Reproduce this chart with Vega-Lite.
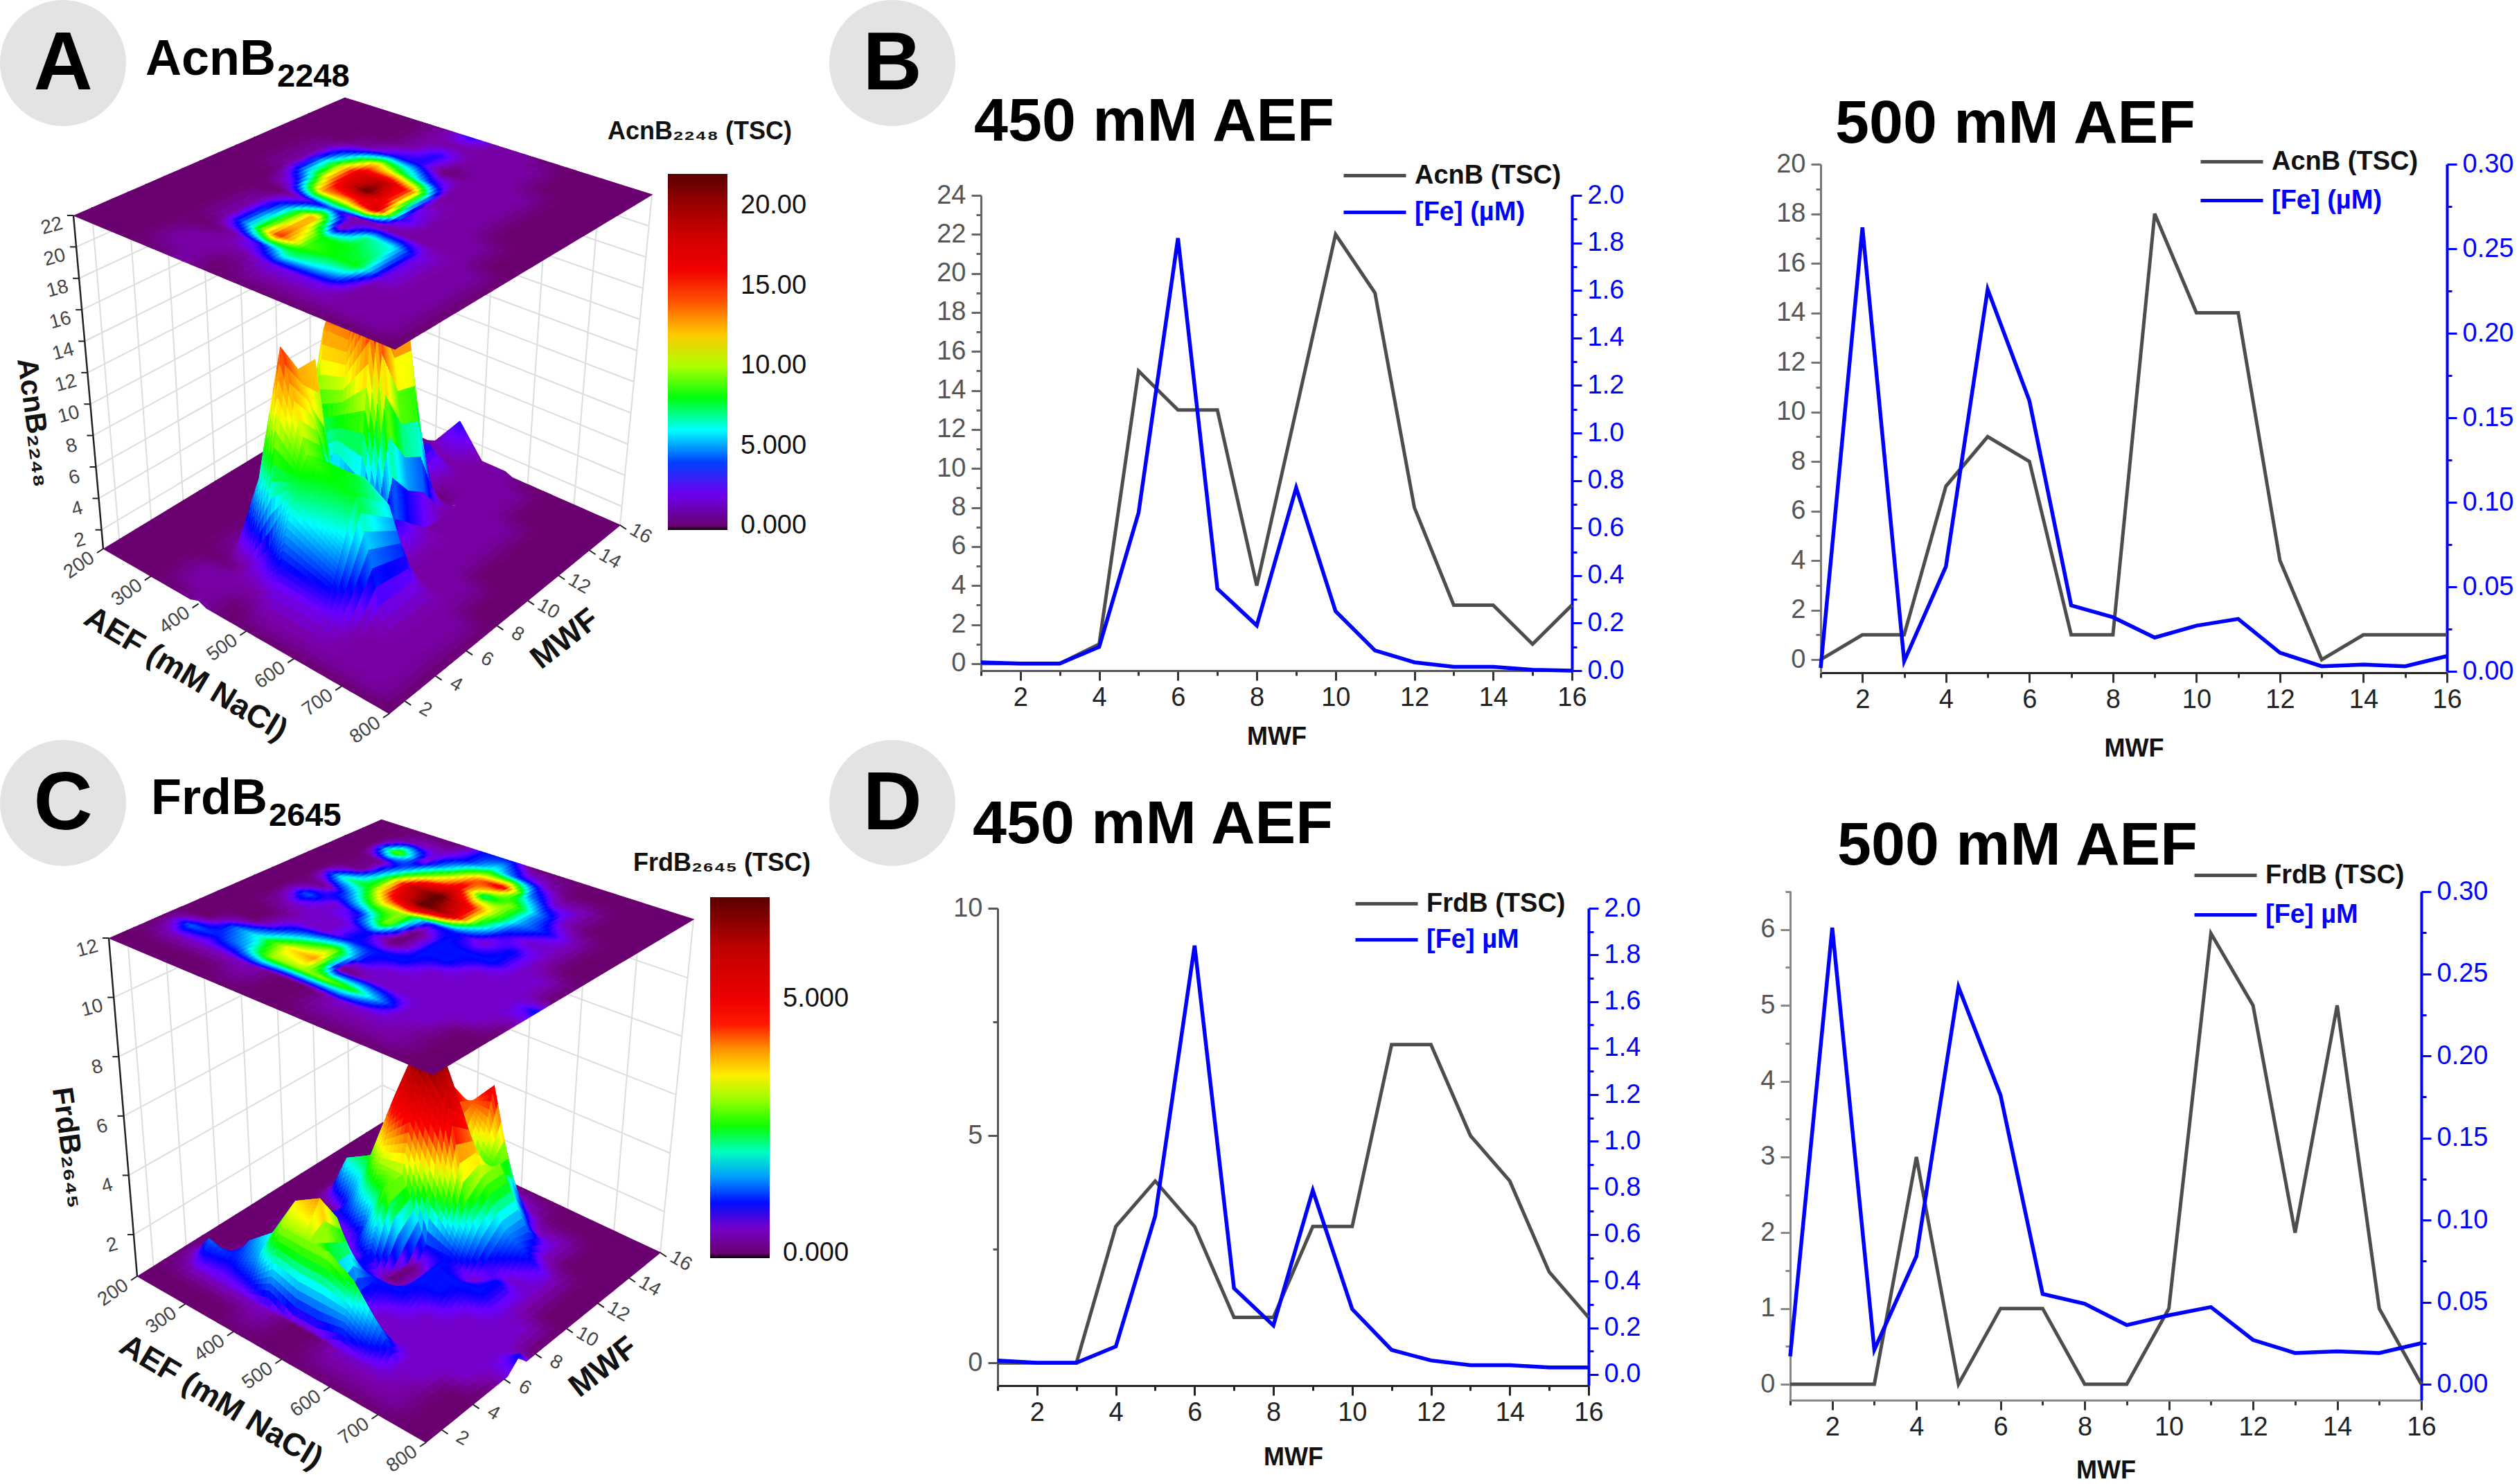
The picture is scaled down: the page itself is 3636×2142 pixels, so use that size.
{"$schema":"https://vega.github.io/schema/vega-lite/v6.json","width":3636,"height":2142,"padding":0,"autosize":{"type":"none"},"background":"white",
"config":{"view":{"stroke":null},"font":"Liberation Sans","axis":{"labelFont":"Liberation Sans","labelFontSize":38,"titleFont":"Liberation Sans","titleFontSize":36,"titleFontWeight":"bold","titleColor":"#111","grid":false,"labelOverlap":false,"labelBound":false,"labelFlush":false,"domainWidth":3,"tickWidth":3},"legend":{"padding":0,"labelFont":"Liberation Sans","titleFont":"Liberation Sans","labelFontSize":38,"labelFontWeight":"bold","symbolType":"stroke","symbolSize":8100,"symbolStrokeWidth":5,"labelOffset":10,"labelLimit":500,"titleLimit":600}},
"datasets":{
"surfA":[
{"aef":200,"mwf":16,"tsc":0},{"aef":250,"mwf":16,"tsc":0},{"aef":300,"mwf":16,"tsc":0},{"aef":350,"mwf":16,"tsc":0},{"aef":400,"mwf":16,"tsc":1},{"aef":450,"mwf":16,"tsc":3},{"aef":500,"mwf":16,"tsc":1},{"aef":550,"mwf":16,"tsc":1},{"aef":600,"mwf":16,"tsc":0},{"aef":650,"mwf":16,"tsc":0},{"aef":700,"mwf":16,"tsc":0},{"aef":750,"mwf":16,"tsc":0},{"aef":800,"mwf":16,"tsc":0},
{"aef":200,"mwf":15,"tsc":0},{"aef":250,"mwf":15,"tsc":0},{"aef":300,"mwf":15,"tsc":0},{"aef":350,"mwf":15,"tsc":0},{"aef":400,"mwf":15,"tsc":1},{"aef":450,"mwf":15,"tsc":1},{"aef":500,"mwf":15,"tsc":1},{"aef":550,"mwf":15,"tsc":1},{"aef":600,"mwf":15,"tsc":1},{"aef":650,"mwf":15,"tsc":0},{"aef":700,"mwf":15,"tsc":0},{"aef":750,"mwf":15,"tsc":0},{"aef":800,"mwf":15,"tsc":0},
{"aef":200,"mwf":14,"tsc":0},{"aef":250,"mwf":14,"tsc":0},{"aef":300,"mwf":14,"tsc":0},{"aef":350,"mwf":14,"tsc":0},{"aef":400,"mwf":14,"tsc":1},{"aef":450,"mwf":14,"tsc":3},{"aef":500,"mwf":14,"tsc":1},{"aef":550,"mwf":14,"tsc":1},{"aef":600,"mwf":14,"tsc":1},{"aef":650,"mwf":14,"tsc":0},{"aef":700,"mwf":14,"tsc":0},{"aef":750,"mwf":14,"tsc":0},{"aef":800,"mwf":14,"tsc":0},
{"aef":200,"mwf":13,"tsc":0},{"aef":250,"mwf":13,"tsc":0},{"aef":300,"mwf":13,"tsc":0},{"aef":350,"mwf":13,"tsc":1},{"aef":400,"mwf":13,"tsc":3},{"aef":450,"mwf":13,"tsc":3},{"aef":500,"mwf":13,"tsc":0},{"aef":550,"mwf":13,"tsc":1},{"aef":600,"mwf":13,"tsc":1},{"aef":650,"mwf":13,"tsc":1},{"aef":700,"mwf":13,"tsc":0},{"aef":750,"mwf":13,"tsc":0},{"aef":800,"mwf":13,"tsc":0},
{"aef":200,"mwf":12,"tsc":0},{"aef":250,"mwf":12,"tsc":0},{"aef":300,"mwf":12,"tsc":1},{"aef":350,"mwf":12,"tsc":5},{"aef":400,"mwf":12,"tsc":12},{"aef":450,"mwf":12,"tsc":8},{"aef":500,"mwf":12,"tsc":4},{"aef":550,"mwf":12,"tsc":1},{"aef":600,"mwf":12,"tsc":1},{"aef":650,"mwf":12,"tsc":1},{"aef":700,"mwf":12,"tsc":0},{"aef":750,"mwf":12,"tsc":0},{"aef":800,"mwf":12,"tsc":0},
{"aef":200,"mwf":11,"tsc":0},{"aef":250,"mwf":11,"tsc":0},{"aef":300,"mwf":11,"tsc":1},{"aef":350,"mwf":11,"tsc":8},{"aef":400,"mwf":11,"tsc":17},{"aef":450,"mwf":11,"tsc":19},{"aef":500,"mwf":11,"tsc":14},{"aef":550,"mwf":11,"tsc":1},{"aef":600,"mwf":11,"tsc":1},{"aef":650,"mwf":11,"tsc":1},{"aef":700,"mwf":11,"tsc":0},{"aef":750,"mwf":11,"tsc":0},{"aef":800,"mwf":11,"tsc":0},
{"aef":200,"mwf":10,"tsc":0},{"aef":250,"mwf":10,"tsc":0},{"aef":300,"mwf":10,"tsc":1},{"aef":350,"mwf":10,"tsc":7},{"aef":400,"mwf":10,"tsc":16},{"aef":450,"mwf":10,"tsc":22},{"aef":500,"mwf":10,"tsc":14},{"aef":550,"mwf":10,"tsc":2},{"aef":600,"mwf":10,"tsc":1},{"aef":650,"mwf":10,"tsc":1},{"aef":700,"mwf":10,"tsc":0},{"aef":750,"mwf":10,"tsc":0},{"aef":800,"mwf":10,"tsc":0},
{"aef":200,"mwf":9,"tsc":0},{"aef":250,"mwf":9,"tsc":0},{"aef":300,"mwf":9,"tsc":0},{"aef":350,"mwf":9,"tsc":3},{"aef":400,"mwf":9,"tsc":13},{"aef":450,"mwf":9,"tsc":13},{"aef":500,"mwf":9,"tsc":18},{"aef":550,"mwf":9,"tsc":3},{"aef":600,"mwf":9,"tsc":1},{"aef":650,"mwf":9,"tsc":1},{"aef":700,"mwf":9,"tsc":1},{"aef":750,"mwf":9,"tsc":0},{"aef":800,"mwf":9,"tsc":0},
{"aef":200,"mwf":8,"tsc":0},{"aef":250,"mwf":8,"tsc":0},{"aef":300,"mwf":8,"tsc":0},{"aef":350,"mwf":8,"tsc":0},{"aef":400,"mwf":8,"tsc":2},{"aef":450,"mwf":8,"tsc":4},{"aef":500,"mwf":8,"tsc":1},{"aef":550,"mwf":8,"tsc":1},{"aef":600,"mwf":8,"tsc":1},{"aef":650,"mwf":8,"tsc":1},{"aef":700,"mwf":8,"tsc":1},{"aef":750,"mwf":8,"tsc":0},{"aef":800,"mwf":8,"tsc":0},
{"aef":200,"mwf":7,"tsc":0},{"aef":250,"mwf":7,"tsc":0},{"aef":300,"mwf":7,"tsc":0},{"aef":350,"mwf":7,"tsc":1},{"aef":400,"mwf":7,"tsc":5},{"aef":450,"mwf":7,"tsc":13},{"aef":500,"mwf":7,"tsc":1},{"aef":550,"mwf":7,"tsc":7},{"aef":600,"mwf":7,"tsc":6},{"aef":650,"mwf":7,"tsc":2},{"aef":700,"mwf":7,"tsc":1},{"aef":750,"mwf":7,"tsc":1},{"aef":800,"mwf":7,"tsc":0},
{"aef":200,"mwf":6,"tsc":0},{"aef":250,"mwf":6,"tsc":0},{"aef":300,"mwf":6,"tsc":0},{"aef":350,"mwf":6,"tsc":1},{"aef":400,"mwf":6,"tsc":6},{"aef":450,"mwf":6,"tsc":13},{"aef":500,"mwf":6,"tsc":8},{"aef":550,"mwf":6,"tsc":8},{"aef":600,"mwf":6,"tsc":7},{"aef":650,"mwf":6,"tsc":2},{"aef":700,"mwf":6,"tsc":1},{"aef":750,"mwf":6,"tsc":1},{"aef":800,"mwf":6,"tsc":0},
{"aef":200,"mwf":5,"tsc":0},{"aef":250,"mwf":5,"tsc":0},{"aef":300,"mwf":5,"tsc":0},{"aef":350,"mwf":5,"tsc":1},{"aef":400,"mwf":5,"tsc":6},{"aef":450,"mwf":5,"tsc":15},{"aef":500,"mwf":5,"tsc":9},{"aef":550,"mwf":5,"tsc":8},{"aef":600,"mwf":5,"tsc":8},{"aef":650,"mwf":5,"tsc":2},{"aef":700,"mwf":5,"tsc":1},{"aef":750,"mwf":5,"tsc":1},{"aef":800,"mwf":5,"tsc":0},
{"aef":200,"mwf":4,"tsc":0},{"aef":250,"mwf":4,"tsc":0},{"aef":300,"mwf":4,"tsc":0},{"aef":350,"mwf":4,"tsc":0},{"aef":400,"mwf":4,"tsc":1},{"aef":450,"mwf":4,"tsc":3},{"aef":500,"mwf":4,"tsc":7},{"aef":550,"mwf":4,"tsc":6},{"aef":600,"mwf":4,"tsc":5},{"aef":650,"mwf":4,"tsc":1},{"aef":700,"mwf":4,"tsc":1},{"aef":750,"mwf":4,"tsc":1},{"aef":800,"mwf":4,"tsc":0},
{"aef":200,"mwf":3,"tsc":0},{"aef":250,"mwf":3,"tsc":0},{"aef":300,"mwf":3,"tsc":0},{"aef":350,"mwf":3,"tsc":1},{"aef":400,"mwf":3,"tsc":1},{"aef":450,"mwf":3,"tsc":1},{"aef":500,"mwf":3,"tsc":2},{"aef":550,"mwf":3,"tsc":2},{"aef":600,"mwf":3,"tsc":2},{"aef":650,"mwf":3,"tsc":1},{"aef":700,"mwf":3,"tsc":1},{"aef":750,"mwf":3,"tsc":1},{"aef":800,"mwf":3,"tsc":0},
{"aef":200,"mwf":2,"tsc":0},{"aef":250,"mwf":2,"tsc":0},{"aef":300,"mwf":2,"tsc":0},{"aef":350,"mwf":2,"tsc":1},{"aef":400,"mwf":2,"tsc":1},{"aef":450,"mwf":2,"tsc":0},{"aef":500,"mwf":2,"tsc":1},{"aef":550,"mwf":2,"tsc":1},{"aef":600,"mwf":2,"tsc":1},{"aef":650,"mwf":2,"tsc":1},{"aef":700,"mwf":2,"tsc":1},{"aef":750,"mwf":2,"tsc":1},{"aef":800,"mwf":2,"tsc":0},
{"aef":200,"mwf":1,"tsc":0},{"aef":250,"mwf":1,"tsc":0},{"aef":300,"mwf":1,"tsc":0},{"aef":350,"mwf":1,"tsc":0},{"aef":400,"mwf":1,"tsc":1},{"aef":450,"mwf":1,"tsc":0},{"aef":500,"mwf":1,"tsc":0},{"aef":550,"mwf":1,"tsc":0},{"aef":600,"mwf":1,"tsc":0},{"aef":650,"mwf":1,"tsc":0},{"aef":700,"mwf":1,"tsc":0},{"aef":750,"mwf":1,"tsc":0},{"aef":800,"mwf":1,"tsc":0}
],
"surfC":[
{"aef":200,"mwf":16,"tsc":0},{"aef":250,"mwf":16,"tsc":0},{"aef":300,"mwf":16,"tsc":0},{"aef":350,"mwf":16,"tsc":0},{"aef":400,"mwf":16,"tsc":1},{"aef":450,"mwf":16,"tsc":1},{"aef":500,"mwf":16,"tsc":0},{"aef":550,"mwf":16,"tsc":0},{"aef":600,"mwf":16,"tsc":0},{"aef":650,"mwf":16,"tsc":0},{"aef":700,"mwf":16,"tsc":0},{"aef":750,"mwf":16,"tsc":0},{"aef":800,"mwf":16,"tsc":0},
{"aef":200,"mwf":15,"tsc":0},{"aef":250,"mwf":15,"tsc":0},{"aef":300,"mwf":15,"tsc":0.5},{"aef":350,"mwf":15,"tsc":0.5},{"aef":400,"mwf":15,"tsc":1},{"aef":450,"mwf":15,"tsc":2},{"aef":500,"mwf":15,"tsc":1},{"aef":550,"mwf":15,"tsc":0.5},{"aef":600,"mwf":15,"tsc":0},{"aef":650,"mwf":15,"tsc":0},{"aef":700,"mwf":15,"tsc":0},{"aef":750,"mwf":15,"tsc":0},{"aef":800,"mwf":15,"tsc":0},
{"aef":200,"mwf":14,"tsc":0},{"aef":250,"mwf":14,"tsc":0},{"aef":300,"mwf":14,"tsc":3},{"aef":350,"mwf":14,"tsc":0.5},{"aef":400,"mwf":14,"tsc":2},{"aef":450,"mwf":14,"tsc":4},{"aef":500,"mwf":14,"tsc":5},{"aef":550,"mwf":14,"tsc":1.5},{"aef":600,"mwf":14,"tsc":0.5},{"aef":650,"mwf":14,"tsc":0.5},{"aef":700,"mwf":14,"tsc":0},{"aef":750,"mwf":14,"tsc":0},{"aef":800,"mwf":14,"tsc":0},
{"aef":200,"mwf":13,"tsc":0},{"aef":250,"mwf":13,"tsc":0},{"aef":300,"mwf":13,"tsc":0.2},{"aef":350,"mwf":13,"tsc":1.5},{"aef":400,"mwf":13,"tsc":3.5},{"aef":450,"mwf":13,"tsc":5},{"aef":500,"mwf":13,"tsc":2},{"aef":550,"mwf":13,"tsc":3},{"aef":600,"mwf":13,"tsc":1.5},{"aef":650,"mwf":13,"tsc":0.5},{"aef":700,"mwf":13,"tsc":0},{"aef":750,"mwf":13,"tsc":0},{"aef":800,"mwf":13,"tsc":0},
{"aef":200,"mwf":12,"tsc":0},{"aef":250,"mwf":12,"tsc":0},{"aef":300,"mwf":12,"tsc":0.2},{"aef":350,"mwf":12,"tsc":2.5},{"aef":400,"mwf":12,"tsc":6},{"aef":450,"mwf":12,"tsc":7},{"aef":500,"mwf":12,"tsc":5},{"aef":550,"mwf":12,"tsc":3},{"aef":600,"mwf":12,"tsc":1.5},{"aef":650,"mwf":12,"tsc":1},{"aef":700,"mwf":12,"tsc":0.5},{"aef":750,"mwf":12,"tsc":0},{"aef":800,"mwf":12,"tsc":0},
{"aef":200,"mwf":11,"tsc":0},{"aef":250,"mwf":11,"tsc":0},{"aef":300,"mwf":11,"tsc":2},{"aef":350,"mwf":11,"tsc":2.5},{"aef":400,"mwf":11,"tsc":5},{"aef":450,"mwf":11,"tsc":7},{"aef":500,"mwf":11,"tsc":6},{"aef":550,"mwf":11,"tsc":2.5},{"aef":600,"mwf":11,"tsc":1},{"aef":650,"mwf":11,"tsc":0.5},{"aef":700,"mwf":11,"tsc":0.5},{"aef":750,"mwf":11,"tsc":0},{"aef":800,"mwf":11,"tsc":0},
{"aef":200,"mwf":10,"tsc":0},{"aef":250,"mwf":10,"tsc":0},{"aef":300,"mwf":10,"tsc":0.2},{"aef":350,"mwf":10,"tsc":1.5},{"aef":400,"mwf":10,"tsc":3},{"aef":450,"mwf":10,"tsc":3},{"aef":500,"mwf":10,"tsc":1},{"aef":550,"mwf":10,"tsc":1},{"aef":600,"mwf":10,"tsc":0.5},{"aef":650,"mwf":10,"tsc":1},{"aef":700,"mwf":10,"tsc":0.5},{"aef":750,"mwf":10,"tsc":0},{"aef":800,"mwf":10,"tsc":0},
{"aef":200,"mwf":9,"tsc":0},{"aef":250,"mwf":9,"tsc":0},{"aef":300,"mwf":9,"tsc":1.3},{"aef":350,"mwf":9,"tsc":0.5},{"aef":400,"mwf":9,"tsc":1},{"aef":450,"mwf":9,"tsc":3},{"aef":500,"mwf":9,"tsc":0},{"aef":550,"mwf":9,"tsc":1},{"aef":600,"mwf":9,"tsc":1},{"aef":650,"mwf":9,"tsc":1},{"aef":700,"mwf":9,"tsc":0.5},{"aef":750,"mwf":9,"tsc":0.5},{"aef":800,"mwf":9,"tsc":0},
{"aef":200,"mwf":8,"tsc":0},{"aef":250,"mwf":8,"tsc":0},{"aef":300,"mwf":8,"tsc":0.5},{"aef":350,"mwf":8,"tsc":0.5},{"aef":400,"mwf":8,"tsc":0.5},{"aef":450,"mwf":8,"tsc":1},{"aef":500,"mwf":8,"tsc":0},{"aef":550,"mwf":8,"tsc":1},{"aef":600,"mwf":8,"tsc":1},{"aef":650,"mwf":8,"tsc":0.5},{"aef":700,"mwf":8,"tsc":0.5},{"aef":750,"mwf":8,"tsc":0.5},{"aef":800,"mwf":8,"tsc":0},
{"aef":200,"mwf":7,"tsc":0},{"aef":250,"mwf":7,"tsc":0},{"aef":300,"mwf":7,"tsc":0},{"aef":350,"mwf":7,"tsc":0.5},{"aef":400,"mwf":7,"tsc":0.5},{"aef":450,"mwf":7,"tsc":1},{"aef":500,"mwf":7,"tsc":1},{"aef":550,"mwf":7,"tsc":1},{"aef":600,"mwf":7,"tsc":0.5},{"aef":650,"mwf":7,"tsc":0.5},{"aef":700,"mwf":7,"tsc":0.5},{"aef":750,"mwf":7,"tsc":0.5},{"aef":800,"mwf":7,"tsc":1},
{"aef":200,"mwf":6,"tsc":0},{"aef":250,"mwf":6,"tsc":0},{"aef":300,"mwf":6,"tsc":0},{"aef":350,"mwf":6,"tsc":1},{"aef":400,"mwf":6,"tsc":2},{"aef":450,"mwf":6,"tsc":3},{"aef":500,"mwf":6,"tsc":1},{"aef":550,"mwf":6,"tsc":0.5},{"aef":600,"mwf":6,"tsc":0.5},{"aef":650,"mwf":6,"tsc":0.5},{"aef":700,"mwf":6,"tsc":0.5},{"aef":750,"mwf":6,"tsc":0.5},{"aef":800,"mwf":6,"tsc":0.5},
{"aef":200,"mwf":5,"tsc":0},{"aef":250,"mwf":5,"tsc":0},{"aef":300,"mwf":5,"tsc":1.3},{"aef":350,"mwf":5,"tsc":2},{"aef":400,"mwf":5,"tsc":3.5},{"aef":450,"mwf":5,"tsc":4},{"aef":500,"mwf":5,"tsc":0},{"aef":550,"mwf":5,"tsc":0.5},{"aef":600,"mwf":5,"tsc":0.5},{"aef":650,"mwf":5,"tsc":0.5},{"aef":700,"mwf":5,"tsc":0.5},{"aef":750,"mwf":5,"tsc":0.5},{"aef":800,"mwf":5,"tsc":0},
{"aef":200,"mwf":4,"tsc":0},{"aef":250,"mwf":4,"tsc":1.3},{"aef":300,"mwf":4,"tsc":1},{"aef":350,"mwf":4,"tsc":1.5},{"aef":400,"mwf":4,"tsc":3},{"aef":450,"mwf":4,"tsc":3},{"aef":500,"mwf":4,"tsc":3},{"aef":550,"mwf":4,"tsc":2.5},{"aef":600,"mwf":4,"tsc":1.5},{"aef":650,"mwf":4,"tsc":0.5},{"aef":700,"mwf":4,"tsc":0.5},{"aef":750,"mwf":4,"tsc":0},{"aef":800,"mwf":4,"tsc":0},
{"aef":200,"mwf":3,"tsc":0},{"aef":250,"mwf":3,"tsc":0.5},{"aef":300,"mwf":3,"tsc":0.5},{"aef":350,"mwf":3,"tsc":0.5},{"aef":400,"mwf":3,"tsc":0.5},{"aef":450,"mwf":3,"tsc":0},{"aef":500,"mwf":3,"tsc":0},{"aef":550,"mwf":3,"tsc":0.5},{"aef":600,"mwf":3,"tsc":0.5},{"aef":650,"mwf":3,"tsc":0.5},{"aef":700,"mwf":3,"tsc":0.3},{"aef":750,"mwf":3,"tsc":0},{"aef":800,"mwf":3,"tsc":0},
{"aef":200,"mwf":2,"tsc":0},{"aef":250,"mwf":2,"tsc":0},{"aef":300,"mwf":2,"tsc":0},{"aef":350,"mwf":2,"tsc":0},{"aef":400,"mwf":2,"tsc":0.3},{"aef":450,"mwf":2,"tsc":0},{"aef":500,"mwf":2,"tsc":0},{"aef":550,"mwf":2,"tsc":0.3},{"aef":600,"mwf":2,"tsc":0.3},{"aef":650,"mwf":2,"tsc":0.3},{"aef":700,"mwf":2,"tsc":0.3},{"aef":750,"mwf":2,"tsc":0},{"aef":800,"mwf":2,"tsc":0},
{"aef":200,"mwf":1,"tsc":0},{"aef":250,"mwf":1,"tsc":0},{"aef":300,"mwf":1,"tsc":0},{"aef":350,"mwf":1,"tsc":0},{"aef":400,"mwf":1,"tsc":0},{"aef":450,"mwf":1,"tsc":0},{"aef":500,"mwf":1,"tsc":0},{"aef":550,"mwf":1,"tsc":0},{"aef":600,"mwf":1,"tsc":0},{"aef":650,"mwf":1,"tsc":0},{"aef":700,"mwf":1,"tsc":0},{"aef":750,"mwf":1,"tsc":0},{"aef":800,"mwf":1,"tsc":0}
],
"wallA":[
{"line":"z2","seq":0,"aef":200,"mwf":1,"z":2},{"line":"z2","seq":1,"aef":200,"mwf":16,"z":2},{"line":"z2","seq":2,"aef":800,"mwf":16,"z":2},
{"line":"z4","seq":0,"aef":200,"mwf":1,"z":4},{"line":"z4","seq":1,"aef":200,"mwf":16,"z":4},{"line":"z4","seq":2,"aef":800,"mwf":16,"z":4},
{"line":"z6","seq":0,"aef":200,"mwf":1,"z":6},{"line":"z6","seq":1,"aef":200,"mwf":16,"z":6},{"line":"z6","seq":2,"aef":800,"mwf":16,"z":6},
{"line":"z8","seq":0,"aef":200,"mwf":1,"z":8},{"line":"z8","seq":1,"aef":200,"mwf":16,"z":8},{"line":"z8","seq":2,"aef":800,"mwf":16,"z":8},
{"line":"z10","seq":0,"aef":200,"mwf":1,"z":10},{"line":"z10","seq":1,"aef":200,"mwf":16,"z":10},{"line":"z10","seq":2,"aef":800,"mwf":16,"z":10},
{"line":"z12","seq":0,"aef":200,"mwf":1,"z":12},{"line":"z12","seq":1,"aef":200,"mwf":16,"z":12},{"line":"z12","seq":2,"aef":800,"mwf":16,"z":12},
{"line":"z14","seq":0,"aef":200,"mwf":1,"z":14},{"line":"z14","seq":1,"aef":200,"mwf":16,"z":14},{"line":"z14","seq":2,"aef":800,"mwf":16,"z":14},
{"line":"z16","seq":0,"aef":200,"mwf":1,"z":16},{"line":"z16","seq":1,"aef":200,"mwf":16,"z":16},{"line":"z16","seq":2,"aef":800,"mwf":16,"z":16},
{"line":"z18","seq":0,"aef":200,"mwf":1,"z":18},{"line":"z18","seq":1,"aef":200,"mwf":16,"z":18},{"line":"z18","seq":2,"aef":800,"mwf":16,"z":18},
{"line":"z20","seq":0,"aef":200,"mwf":1,"z":20},{"line":"z20","seq":1,"aef":200,"mwf":16,"z":20},{"line":"z20","seq":2,"aef":800,"mwf":16,"z":20},
{"line":"a200","seq":0,"aef":200,"mwf":16,"z":0.8},{"line":"a200","seq":1,"aef":200,"mwf":16,"z":22},
{"line":"a300","seq":0,"aef":300,"mwf":16,"z":0.8},{"line":"a300","seq":1,"aef":300,"mwf":16,"z":22},
{"line":"a400","seq":0,"aef":400,"mwf":16,"z":0.8},{"line":"a400","seq":1,"aef":400,"mwf":16,"z":22},
{"line":"a500","seq":0,"aef":500,"mwf":16,"z":0.8},{"line":"a500","seq":1,"aef":500,"mwf":16,"z":22},
{"line":"a600","seq":0,"aef":600,"mwf":16,"z":0.8},{"line":"a600","seq":1,"aef":600,"mwf":16,"z":22},
{"line":"a700","seq":0,"aef":700,"mwf":16,"z":0.8},{"line":"a700","seq":1,"aef":700,"mwf":16,"z":22},
{"line":"a800","seq":0,"aef":800,"mwf":16,"z":0.8},{"line":"a800","seq":1,"aef":800,"mwf":16,"z":22},
{"line":"m2","seq":0,"aef":200,"mwf":2,"z":0.8},{"line":"m2","seq":1,"aef":200,"mwf":2,"z":22},
{"line":"m4","seq":0,"aef":200,"mwf":4,"z":0.8},{"line":"m4","seq":1,"aef":200,"mwf":4,"z":22},
{"line":"m6","seq":0,"aef":200,"mwf":6,"z":0.8},{"line":"m6","seq":1,"aef":200,"mwf":6,"z":22},
{"line":"m8","seq":0,"aef":200,"mwf":8,"z":0.8},{"line":"m8","seq":1,"aef":200,"mwf":8,"z":22},
{"line":"m10","seq":0,"aef":200,"mwf":10,"z":0.8},{"line":"m10","seq":1,"aef":200,"mwf":10,"z":22},
{"line":"m12","seq":0,"aef":200,"mwf":12,"z":0.8},{"line":"m12","seq":1,"aef":200,"mwf":12,"z":22},
{"line":"m14","seq":0,"aef":200,"mwf":14,"z":0.8},{"line":"m14","seq":1,"aef":200,"mwf":14,"z":22}
],
"wallC":[
{"line":"z2","seq":0,"aef":200,"mwf":1,"z":2},{"line":"z2","seq":1,"aef":200,"mwf":16,"z":2},{"line":"z2","seq":2,"aef":800,"mwf":16,"z":2},
{"line":"z4","seq":0,"aef":200,"mwf":1,"z":4},{"line":"z4","seq":1,"aef":200,"mwf":16,"z":4},{"line":"z4","seq":2,"aef":800,"mwf":16,"z":4},
{"line":"z6","seq":0,"aef":200,"mwf":1,"z":6},{"line":"z6","seq":1,"aef":200,"mwf":16,"z":6},{"line":"z6","seq":2,"aef":800,"mwf":16,"z":6},
{"line":"z8","seq":0,"aef":200,"mwf":1,"z":8},{"line":"z8","seq":1,"aef":200,"mwf":16,"z":8},{"line":"z8","seq":2,"aef":800,"mwf":16,"z":8},
{"line":"z10","seq":0,"aef":200,"mwf":1,"z":10},{"line":"z10","seq":1,"aef":200,"mwf":16,"z":10},{"line":"z10","seq":2,"aef":800,"mwf":16,"z":10},
{"line":"a200","seq":0,"aef":200,"mwf":16,"z":0.6},{"line":"a200","seq":1,"aef":200,"mwf":16,"z":12},
{"line":"a300","seq":0,"aef":300,"mwf":16,"z":0.6},{"line":"a300","seq":1,"aef":300,"mwf":16,"z":12},
{"line":"a400","seq":0,"aef":400,"mwf":16,"z":0.6},{"line":"a400","seq":1,"aef":400,"mwf":16,"z":12},
{"line":"a500","seq":0,"aef":500,"mwf":16,"z":0.6},{"line":"a500","seq":1,"aef":500,"mwf":16,"z":12},
{"line":"a600","seq":0,"aef":600,"mwf":16,"z":0.6},{"line":"a600","seq":1,"aef":600,"mwf":16,"z":12},
{"line":"a700","seq":0,"aef":700,"mwf":16,"z":0.6},{"line":"a700","seq":1,"aef":700,"mwf":16,"z":12},
{"line":"a800","seq":0,"aef":800,"mwf":16,"z":0.6},{"line":"a800","seq":1,"aef":800,"mwf":16,"z":12},
{"line":"m2","seq":0,"aef":200,"mwf":2,"z":0.6},{"line":"m2","seq":1,"aef":200,"mwf":2,"z":12},
{"line":"m4","seq":0,"aef":200,"mwf":4,"z":0.6},{"line":"m4","seq":1,"aef":200,"mwf":4,"z":12},
{"line":"m6","seq":0,"aef":200,"mwf":6,"z":0.6},{"line":"m6","seq":1,"aef":200,"mwf":6,"z":12},
{"line":"m8","seq":0,"aef":200,"mwf":8,"z":0.6},{"line":"m8","seq":1,"aef":200,"mwf":8,"z":12},
{"line":"m10","seq":0,"aef":200,"mwf":10,"z":0.6},{"line":"m10","seq":1,"aef":200,"mwf":10,"z":12},
{"line":"m12","seq":0,"aef":200,"mwf":12,"z":0.6},{"line":"m12","seq":1,"aef":200,"mwf":12,"z":12},
{"line":"m14","seq":0,"aef":200,"mwf":14,"z":0.6},{"line":"m14","seq":1,"aef":200,"mwf":14,"z":12}
],
"axisA":[
{"kind":"base","label":"","aef":200,"mwf":1,"z":0.8},
{"kind":"z","label":"2","aef":200,"mwf":1,"z":2},{"kind":"z","label":"4","aef":200,"mwf":1,"z":4},{"kind":"z","label":"6","aef":200,"mwf":1,"z":6},{"kind":"z","label":"8","aef":200,"mwf":1,"z":8},{"kind":"z","label":"10","aef":200,"mwf":1,"z":10},{"kind":"z","label":"12","aef":200,"mwf":1,"z":12},{"kind":"z","label":"14","aef":200,"mwf":1,"z":14},{"kind":"z","label":"16","aef":200,"mwf":1,"z":16},{"kind":"z","label":"18","aef":200,"mwf":1,"z":18},{"kind":"z","label":"20","aef":200,"mwf":1,"z":20},{"kind":"z","label":"22","aef":200,"mwf":1,"z":22},
{"kind":"aef","label":"200","aef":200,"mwf":1,"z":0.8},{"kind":"aef","label":"300","aef":300,"mwf":1,"z":0.8},{"kind":"aef","label":"400","aef":400,"mwf":1,"z":0.8},{"kind":"aef","label":"500","aef":500,"mwf":1,"z":0.8},{"kind":"aef","label":"600","aef":600,"mwf":1,"z":0.8},{"kind":"aef","label":"700","aef":700,"mwf":1,"z":0.8},{"kind":"aef","label":"800","aef":800,"mwf":1,"z":0.8},
{"kind":"mwf","label":"2","aef":800,"mwf":2,"z":0.8},{"kind":"mwf","label":"4","aef":800,"mwf":4,"z":0.8},{"kind":"mwf","label":"6","aef":800,"mwf":6,"z":0.8},{"kind":"mwf","label":"8","aef":800,"mwf":8,"z":0.8},{"kind":"mwf","label":"10","aef":800,"mwf":10,"z":0.8},{"kind":"mwf","label":"12","aef":800,"mwf":12,"z":0.8},{"kind":"mwf","label":"14","aef":800,"mwf":14,"z":0.8},{"kind":"mwf","label":"16","aef":800,"mwf":16,"z":0.8},
{"kind":"aeft","label":"AEF (mM NaCl)","aef":500,"mwf":1,"z":0.8},{"kind":"mwft","label":"MWF","aef":800,"mwf":8.5,"z":0.8},{"kind":"zt","label":"AcnB₂₂₄₈","aef":200,"mwf":1,"z":11.4},
{"kind":"lt","label":"AcnB₂₂₄₈ (TSC)","aef":800,"mwf":16,"z":22}
],
"axisC":[
{"kind":"base","label":"","aef":200,"mwf":1,"z":0.6},
{"kind":"z","label":"2","aef":200,"mwf":1,"z":2},{"kind":"z","label":"4","aef":200,"mwf":1,"z":4},{"kind":"z","label":"6","aef":200,"mwf":1,"z":6},{"kind":"z","label":"8","aef":200,"mwf":1,"z":8},{"kind":"z","label":"10","aef":200,"mwf":1,"z":10},{"kind":"z","label":"12","aef":200,"mwf":1,"z":12},
{"kind":"aef","label":"200","aef":200,"mwf":1,"z":0.6},{"kind":"aef","label":"300","aef":300,"mwf":1,"z":0.6},{"kind":"aef","label":"400","aef":400,"mwf":1,"z":0.6},{"kind":"aef","label":"500","aef":500,"mwf":1,"z":0.6},{"kind":"aef","label":"600","aef":600,"mwf":1,"z":0.6},{"kind":"aef","label":"700","aef":700,"mwf":1,"z":0.6},{"kind":"aef","label":"800","aef":800,"mwf":1,"z":0.6},
{"kind":"mwf","label":"2","aef":800,"mwf":2,"z":0.6},{"kind":"mwf","label":"4","aef":800,"mwf":4,"z":0.6},{"kind":"mwf","label":"6","aef":800,"mwf":6,"z":0.6},{"kind":"mwf","label":"8","aef":800,"mwf":8,"z":0.6},{"kind":"mwf","label":"10","aef":800,"mwf":10,"z":0.6},{"kind":"mwf","label":"12","aef":800,"mwf":12,"z":0.6},{"kind":"mwf","label":"14","aef":800,"mwf":14,"z":0.6},{"kind":"mwf","label":"16","aef":800,"mwf":16,"z":0.6},
{"kind":"aeft","label":"AEF (mM NaCl)","aef":500,"mwf":1,"z":0.6},{"kind":"mwft","label":"MWF","aef":800,"mwf":8.5,"z":0.6},{"kind":"zt","label":"FrdB₂₆₄₅","aef":200,"mwf":1,"z":6.3},
{"kind":"lt","label":"FrdB₂₆₄₅ (TSC)","aef":800,"mwf":16,"z":12}
],
"lines":[
{"chart":"B450","mwf":1,"tsc":0,"fe":0.035},{"chart":"B450","mwf":2,"tsc":0,"fe":0.03},{"chart":"B450","mwf":3,"tsc":0,"fe":0.03},{"chart":"B450","mwf":4,"tsc":1,"fe":0.1},{"chart":"B450","mwf":5,"tsc":15,"fe":0.665},{"chart":"B450","mwf":6,"tsc":13,"fe":1.82},{"chart":"B450","mwf":7,"tsc":13,"fe":0.345},{"chart":"B450","mwf":8,"tsc":4,"fe":0.19},{"chart":"B450","mwf":9,"tsc":13,"fe":0.77},{"chart":"B450","mwf":10,"tsc":22,"fe":0.25},{"chart":"B450","mwf":11,"tsc":19,"fe":0.085},{"chart":"B450","mwf":12,"tsc":8,"fe":0.035},{"chart":"B450","mwf":13,"tsc":3,"fe":0.016},{"chart":"B450","mwf":14,"tsc":3,"fe":0.016},{"chart":"B450","mwf":15,"tsc":1,"fe":0.004},{"chart":"B450","mwf":16,"tsc":3,"fe":0},
{"chart":"B500","mwf":1,"tsc":0,"fe":0.002},{"chart":"B500","mwf":2,"tsc":1,"fe":0.2626},{"chart":"B500","mwf":3,"tsc":1,"fe":0.006},{"chart":"B500","mwf":4,"tsc":7,"fe":0.062},{"chart":"B500","mwf":5,"tsc":9,"fe":0.226},{"chart":"B500","mwf":6,"tsc":8,"fe":0.16},{"chart":"B500","mwf":7,"tsc":1,"fe":0.039},{"chart":"B500","mwf":8,"tsc":1,"fe":0.032},{"chart":"B500","mwf":9,"tsc":18,"fe":0.02},{"chart":"B500","mwf":10,"tsc":14,"fe":0.027},{"chart":"B500","mwf":11,"tsc":14,"fe":0.031},{"chart":"B500","mwf":12,"tsc":4,"fe":0.011},{"chart":"B500","mwf":13,"tsc":0,"fe":0.003},{"chart":"B500","mwf":14,"tsc":1,"fe":0.004},{"chart":"B500","mwf":15,"tsc":1,"fe":0.003},{"chart":"B500","mwf":16,"tsc":1,"fe":0.009},
{"chart":"D450","mwf":1,"tsc":0,"fe":0.06},{"chart":"D450","mwf":2,"tsc":0,"fe":0.05},{"chart":"D450","mwf":3,"tsc":0,"fe":0.05},{"chart":"D450","mwf":4,"tsc":3,"fe":0.12},{"chart":"D450","mwf":5,"tsc":4,"fe":0.68},{"chart":"D450","mwf":6,"tsc":3,"fe":1.84},{"chart":"D450","mwf":7,"tsc":1,"fe":0.37},{"chart":"D450","mwf":8,"tsc":1,"fe":0.21},{"chart":"D450","mwf":9,"tsc":3,"fe":0.79},{"chart":"D450","mwf":10,"tsc":3,"fe":0.28},{"chart":"D450","mwf":11,"tsc":7,"fe":0.105},{"chart":"D450","mwf":12,"tsc":7,"fe":0.06},{"chart":"D450","mwf":13,"tsc":5,"fe":0.04},{"chart":"D450","mwf":14,"tsc":4,"fe":0.04},{"chart":"D450","mwf":15,"tsc":2,"fe":0.03},{"chart":"D450","mwf":16,"tsc":1,"fe":0.03},
{"chart":"D500","mwf":1,"tsc":0,"fe":0.017},{"chart":"D500","mwf":2,"tsc":0,"fe":0.278},{"chart":"D500","mwf":3,"tsc":0,"fe":0.021},{"chart":"D500","mwf":4,"tsc":3,"fe":0.078},{"chart":"D500","mwf":5,"tsc":0,"fe":0.242},{"chart":"D500","mwf":6,"tsc":1,"fe":0.176},{"chart":"D500","mwf":7,"tsc":1,"fe":0.055},{"chart":"D500","mwf":8,"tsc":0,"fe":0.049},{"chart":"D500","mwf":9,"tsc":0,"fe":0.036},{"chart":"D500","mwf":10,"tsc":1,"fe":0.042},{"chart":"D500","mwf":11,"tsc":5.95,"fe":0.047},{"chart":"D500","mwf":12,"tsc":5,"fe":0.027},{"chart":"D500","mwf":13,"tsc":2,"fe":0.019},{"chart":"D500","mwf":14,"tsc":5,"fe":0.02},{"chart":"D500","mwf":15,"tsc":1,"fe":0.019},{"chart":"D500","mwf":16,"tsc":0,"fe":0.025}
]
},
"layer":[
{"data":{"values":[{"badge":"A","col":"left","row":"top"},{"badge":"B","col":"right","row":"top"},{"badge":"C","col":"left","row":"bottom"},{"badge":"D","col":"right","row":"bottom"}]},
 "encoding":{"x":{"field":"col","type":"nominal","scale":{"type":"point","padding":0,"domain":["left","right"],"range":[91,1288]},"axis":null},"y":{"field":"row","type":"nominal","scale":{"type":"point","padding":0,"domain":["top","bottom"],"range":[91,1159]},"axis":null}},
 "layer":[{"mark":{"type":"point","filled":true,"shape":"circle","size":33124,"color":"#e3e3e3","opacity":1,"strokeWidth":0}},
 {"mark":{"type":"text","font":"Liberation Sans","fontWeight":"bold","fontSize":118,"color":"#000","align":"center","baseline":"middle","dy":3},"encoding":{"text":{"field":"badge"}}}]},
{"data":{"values":[{"name":"AcnB","sub":"2248","col":"left","row":"top"},{"name":"FrdB","sub":"2645","col":"right","row":"bottom"}]},
 "mark":{"type":"text","font":"Liberation Sans","fontWeight":"bold","fontSize":72,"color":"#000","align":"left","baseline":"alphabetic"},
 "encoding":{"text":{"field":"name"},"x":{"field":"col","type":"nominal","scale":{"type":"point","padding":0,"domain":["left","right"],"range":[210,218]},"axis":null},"y":{"field":"row","type":"nominal","scale":{"type":"point","padding":0,"domain":["top","bottom"],"range":[108,1175]},"axis":null}}},
{"data":{"values":[{"name":"AcnB","sub":"2248","col":"left","row":"top"},{"name":"FrdB","sub":"2645","col":"right","row":"bottom"}]},
 "mark":{"type":"text","font":"Liberation Sans","fontWeight":"bold","fontSize":47,"color":"#000","align":"left","baseline":"alphabetic"},
 "encoding":{"text":{"field":"sub"},"x":{"field":"col","type":"nominal","scale":{"type":"point","padding":0,"domain":["left","right"],"range":[400,388]},"axis":null},"y":{"field":"row","type":"nominal","scale":{"type":"point","padding":0,"domain":["top","bottom"],"range":[125,1192]},"axis":null}}},
{"data":{"values":[{"label":"450 mM AEF","chart":"c450"},{"label":"500 mM AEF","chart":"c500"}]},
 "mark":{"type":"text","font":"Liberation Sans","fontWeight":"bold","fontSize":88,"color":"#000","align":"left","baseline":"middle"},
 "encoding":{"text":{"field":"label"},"x":{"field":"chart","type":"nominal","scale":{"type":"point","padding":0,"domain":["c450","c500"],"range":[1406,2649]},"axis":null},"y":{"field":"chart","type":"nominal","scale":{"type":"point","padding":0,"domain":["c450","c500"],"range":[177,180]},"axis":null}}},
{"data":{"values":[{"label":"450 mM AEF","chart":"c450"},{"label":"500 mM AEF","chart":"c500"}]},
 "mark":{"type":"text","font":"Liberation Sans","fontWeight":"bold","fontSize":88,"color":"#000","align":"left","baseline":"middle"},
 "encoding":{"text":{"field":"label"},"x":{"field":"chart","type":"nominal","scale":{"type":"point","padding":0,"domain":["c450","c500"],"range":[1404,2652]},"axis":null},"y":{"field":"chart","type":"nominal","scale":{"type":"point","padding":0,"domain":["c450","c500"],"range":[1191,1222]},"axis":null}}},

{"encoding":{"x":{"field":"px","type":"quantitative","scale":{"domain":[0,3636],"range":[0,3636],"nice":false,"zero":false},"axis":null},"y":{"field":"py","type":"quantitative","scale":{"domain":[0,2142],"range":[0,2142],"nice":false,"zero":false},"axis":null}},
 "layer":[
 {"data":{"name":"wallA"},
  "transform":[{"calculate":"(datum.aef-200)/600","as":"u"},{"calculate":"(datum.mwf-1)/15","as":"v"},{"calculate":"(datum.z-0.8)/21.2","as":"t"},
  {"calculate":"(1-datum.t)*((1-datum.v)*((1-datum.u)*149+datum.u*562)+datum.v*((1-datum.u)*495+datum.u*895))+datum.t*((1-datum.v)*((1-datum.u)*106+datum.u*570)+datum.v*((1-datum.u)*497+datum.u*941))","as":"px"},
  {"calculate":"(1-datum.t)*((1-datum.v)*((1-datum.u)*792+datum.u*1030)+datum.v*((1-datum.u)*582+datum.u*758))+datum.t*((1-datum.v)*((1-datum.u)*311+datum.u*504)+datum.v*((1-datum.u)*141+datum.u*281))","as":"py"}],
  "mark":{"type":"line","color":"#dddddd","strokeWidth":2},"encoding":{"detail":{"field":"line"},"order":{"field":"seq"}}},
 {"data":{"name":"surfA"},
  "transform":[{"calculate":"['z0','z1','z2','z3']","as":"corner"},{"flatten":["corner"]},
  {"calculate":"datum.aef-((datum.corner=='z1'||datum.corner=='z3')?50:0)","as":"cellA"},{"calculate":"datum.mwf-((datum.corner=='z2'||datum.corner=='z3')?1:0)","as":"cellM"},
  {"filter":"datum.cellA>=200&&datum.cellA<=750&&datum.cellM>=1&&datum.cellM<=15"},
  {"pivot":"corner","value":"tsc","groupby":["cellA","cellM"]},
  {"calculate":"max(datum.z0,datum.z1,datum.z2,datum.z3)>2?2:(max(datum.z0,datum.z1,datum.z2,datum.z3)>0?1:0)","as":"lvl"},
  {"calculate":"datum.lvl==2?12:(datum.lvl==1?3:1)","as":"nr"},{"calculate":"datum.lvl==2?6:(datum.lvl==1?3:1)","as":"ns"},
  {"calculate":"datum.lvl==2?[11,10,9,8,7,6,5,4,3,2,1,0]:(datum.lvl==1?[2,1,0]:[0])","as":"r"},{"flatten":["r"]},{"calculate":"datum.lvl==2?[0,1,2,3,4,5]:(datum.lvl==1?[0,1,2]:[0])","as":"s"},{"flatten":["s"]},
  {"calculate":"datum.cellA+'_'+datum.cellM+'_'+datum.s+'_'+datum.r","as":"id"},
  {"calculate":"(datum.s+0.5)/datum.ns","as":"cs"},{"calculate":"(datum.r+0.5)/datum.nr","as":"cr"},
  {"calculate":"(1-datum.cs)*(1-datum.cr)*datum.z0+datum.cs*(1-datum.cr)*datum.z1+(1-datum.cs)*datum.cr*datum.z2+datum.cs*datum.cr*datum.z3","as":"fc"},
  {"calculate":"[0,1,2,3]","as":"c"},{"flatten":["c"]},
  {"calculate":"(datum.s+((datum.c==1||datum.c==2)?1:0))/datum.ns","as":"pa"},{"calculate":"(datum.r+(datum.c>=2?1:0))/datum.nr","as":"pm"},
  {"calculate":"(1-datum.pa)*(1-datum.pm)*datum.z0+datum.pa*(1-datum.pm)*datum.z1+(1-datum.pa)*datum.pm*datum.z2+datum.pa*datum.pm*datum.z3","as":"zv"},
  {"calculate":"(datum.cellA+50*datum.pa-200)/600","as":"u"},{"calculate":"(datum.cellM+datum.pm-1)/15","as":"v"}],
  "encoding":{"detail":{"field":"id"},"order":{"field":"c"},
   "fill":{"field":"fc","type":"quantitative","scale":{"domain":[-0.25,-0.1,0,1.2,2.2,3.3,6,8.1,10.9,13.2,15.2,19,22],"range":["#000000","#000000","#6a0070","#7a00b0","#6a00ff","#0000ff","#00ffff","#00ff00","#ffff00","#ff8c00","#ff0000","#c00000","#5a0000"],"interpolate":"rgb","nice":false,"zero":false},
    "legend":{"type":"gradient","orient":"none","legendX":964,"legendY":251,"title":null,"gradientLength":514,"gradientThickness":86,"gradientStrokeWidth":0,"values":[0,5,10,15,20],"labelExpr":"datum.value<10?format(datum.value,'.3f'):format(datum.value,'.2f')","labelFontSize":38,"labelFontWeight":"normal","labelOffset":19,"labelOverlap":false,"labelColor":"#111"}},
   "stroke":{"field":"fc","type":"quantitative","scale":{"domain":[0,1.2,2.2,3.3,6,8.1,10.9,13.2,15.2,19,22.001],"range":["#6a0070","#7a00b0","#6a00ff","#0000ff","#00ffff","#00ff00","#ffff00","#ff8c00","#ff0000","#c00000","#5a0000"],"interpolate":"rgb","nice":false,"zero":false},"legend":null}},
  "layer":[
   {"transform":[{"calculate":"clamp((datum.zv-0.8)/21.2,0,1)","as":"t"},
    {"calculate":"(1-datum.t)*((1-datum.v)*((1-datum.u)*149+datum.u*562)+datum.v*((1-datum.u)*495+datum.u*895))+datum.t*((1-datum.v)*((1-datum.u)*106+datum.u*570)+datum.v*((1-datum.u)*497+datum.u*941))","as":"px"},
    {"calculate":"(1-datum.t)*((1-datum.v)*((1-datum.u)*792+datum.u*1030)+datum.v*((1-datum.u)*582+datum.u*758))+datum.t*((1-datum.v)*((1-datum.u)*311+datum.u*504)+datum.v*((1-datum.u)*141+datum.u*281))","as":"py"}],
    "mark":{"type":"line","strokeWidth":1.2}},
   {"transform":[{"calculate":"(1-datum.v)*((1-datum.u)*106+datum.u*570)+datum.v*((1-datum.u)*497+datum.u*941)","as":"px"},
    {"calculate":"(1-datum.v)*((1-datum.u)*311+datum.u*504)+datum.v*((1-datum.u)*141+datum.u*281)","as":"py"}],
    "mark":{"type":"line","strokeWidth":1.2}}
  ]},
 {"data":{"name":"axisA"},
  "transform":[{"calculate":"(datum.aef-200)/600","as":"u"},{"calculate":"(datum.mwf-1)/15","as":"v"},{"calculate":"(datum.z-0.8)/21.2","as":"t"},
  {"calculate":"(1-datum.t)*((1-datum.v)*((1-datum.u)*149+datum.u*562)+datum.v*((1-datum.u)*495+datum.u*895))+datum.t*((1-datum.v)*((1-datum.u)*106+datum.u*570)+datum.v*((1-datum.u)*497+datum.u*941))","as":"px"},
  {"calculate":"(1-datum.t)*((1-datum.v)*((1-datum.u)*792+datum.u*1030)+datum.v*((1-datum.u)*582+datum.u*758))+datum.t*((1-datum.v)*((1-datum.u)*311+datum.u*504)+datum.v*((1-datum.u)*141+datum.u*281))","as":"py"},
  {"calculate":"datum.px+(datum.kind=='mwf'?9:-9)","as":"px2"},{"calculate":"datum.py+(datum.kind=='z'?0:6)","as":"py2"}],
  "encoding":{"text":{"field":"label"}},
  "layer":[
   {"transform":[{"filter":"datum.kind=='z'||datum.kind=='base'"}],"mark":{"type":"line","color":"#222","strokeWidth":2.5}},
   {"transform":[{"filter":"datum.kind=='z'||datum.kind=='aef'||datum.kind=='mwf'"}],"mark":{"type":"rule","color":"#222","strokeWidth":2},"encoding":{"x2":{"field":"px2"},"y2":{"field":"py2"}}},
   {"transform":[{"filter":"datum.kind=='z'"}],"mark":{"type":"text","fontSize":28,"font":"Liberation Sans","color":"#444","angle":345,"dx":-34,"dy":7}},
   {"transform":[{"filter":"datum.kind=='aef'"}],"mark":{"type":"text","fontSize":28,"font":"Liberation Sans","color":"#444","angle":325,"dx":-42,"dy":0}},
   {"transform":[{"filter":"datum.kind=='mwf'"}],"mark":{"type":"text","fontSize":28,"font":"Liberation Sans","color":"#444","angle":30,"dx":32,"dy":-4}},
   {"transform":[{"filter":"datum.kind=='aeft'"}],"mark":{"type":"text","fontSize":46,"fontWeight":"bold","font":"Liberation Sans","color":"#111","angle":31,"dx":-43,"dy":98}},
   {"transform":[{"filter":"datum.kind=='mwft'"}],"mark":{"type":"text","fontSize":46,"fontWeight":"bold","font":"Liberation Sans","color":"#111","angle":322,"dx":51,"dy":76}},
   {"transform":[{"filter":"datum.kind=='zt'"}],"mark":{"type":"text","fontSize":42,"fontWeight":"bold","font":"Liberation Sans","color":"#111","angle":82,"dx":47,"dy":84}},
   {"transform":[{"filter":"datum.kind=='lt'"}],"mark":{"type":"text","fontSize":36,"fontWeight":"bold","font":"Liberation Sans","color":"#111","dx":69,"dy":-91}}
  ]}
 ]},

{"encoding":{"x":{"field":"px","type":"quantitative","scale":{"domain":[0,3636],"range":[0,3636],"nice":false,"zero":false},"axis":null},"y":{"field":"py","type":"quantitative","scale":{"domain":[0,2142],"range":[0,2142],"nice":false,"zero":false},"axis":null}},
 "layer":[
 {"data":{"name":"wallC"},
  "transform":[{"calculate":"(datum.aef-200)/600","as":"u"},{"calculate":"(datum.mwf-1)/15","as":"v"},{"calculate":"(datum.z-0.6)/11.4","as":"t"},
  {"calculate":"(1-datum.t)*((1-datum.v)*((1-datum.u)*198+datum.u*615)+datum.v*((1-datum.u)*552+datum.u*953))+datum.t*((1-datum.v)*((1-datum.u)*157+datum.u*625)+datum.v*((1-datum.u)*550+datum.u*1001))","as":"px"},
  {"calculate":"(1-datum.t)*((1-datum.v)*((1-datum.u)*1842+datum.u*2082)+datum.v*((1-datum.u)*1620+datum.u*1808))+datum.t*((1-datum.v)*((1-datum.u)*1354+datum.u*1551)+datum.v*((1-datum.u)*1183+datum.u*1327))","as":"py"}],
  "mark":{"type":"line","color":"#dddddd","strokeWidth":2},"encoding":{"detail":{"field":"line"},"order":{"field":"seq"}}},
 {"data":{"name":"surfC"},
  "transform":[{"calculate":"['z0','z1','z2','z3']","as":"corner"},{"flatten":["corner"]},
  {"calculate":"datum.aef-((datum.corner=='z1'||datum.corner=='z3')?50:0)","as":"cellA"},{"calculate":"datum.mwf-((datum.corner=='z2'||datum.corner=='z3')?1:0)","as":"cellM"},
  {"filter":"datum.cellA>=200&&datum.cellA<=750&&datum.cellM>=1&&datum.cellM<=15"},
  {"pivot":"corner","value":"tsc","groupby":["cellA","cellM"]},
  {"calculate":"max(datum.z0,datum.z1,datum.z2,datum.z3)>0.8?2:(max(datum.z0,datum.z1,datum.z2,datum.z3)>0?1:0)","as":"lvl"},
  {"calculate":"datum.lvl==2?12:(datum.lvl==1?3:1)","as":"nr"},{"calculate":"datum.lvl==2?6:(datum.lvl==1?3:1)","as":"ns"},
  {"calculate":"datum.lvl==2?[11,10,9,8,7,6,5,4,3,2,1,0]:(datum.lvl==1?[2,1,0]:[0])","as":"r"},{"flatten":["r"]},{"calculate":"datum.lvl==2?[0,1,2,3,4,5]:(datum.lvl==1?[0,1,2]:[0])","as":"s"},{"flatten":["s"]},
  {"calculate":"datum.cellA+'_'+datum.cellM+'_'+datum.s+'_'+datum.r","as":"id"},
  {"calculate":"(datum.s+0.5)/datum.ns","as":"cs"},{"calculate":"(datum.r+0.5)/datum.nr","as":"cr"},
  {"calculate":"(1-datum.cs)*(1-datum.cr)*datum.z0+datum.cs*(1-datum.cr)*datum.z1+(1-datum.cs)*datum.cr*datum.z2+datum.cs*datum.cr*datum.z3","as":"fc"},
  {"calculate":"[0,1,2,3]","as":"c"},{"flatten":["c"]},
  {"calculate":"(datum.s+((datum.c==1||datum.c==2)?1:0))/datum.ns","as":"pa"},{"calculate":"(datum.r+(datum.c>=2?1:0))/datum.nr","as":"pm"},
  {"calculate":"(1-datum.pa)*(1-datum.pm)*datum.z0+datum.pa*(1-datum.pm)*datum.z1+(1-datum.pa)*datum.pm*datum.z2+datum.pa*datum.pm*datum.z3","as":"zv"},
  {"calculate":"(datum.cellA+50*datum.pa-200)/600","as":"u"},{"calculate":"(datum.cellM+datum.pm-1)/15","as":"v"}],
  "encoding":{"detail":{"field":"id"},"order":{"field":"c"},
   "fill":{"field":"fc","type":"quantitative","scale":{"domain":[-0.095,-0.04,0,0.4,0.7,0.95,1.85,2.45,3.4,4.05,4.6,6,7],"range":["#000000","#000000","#6a0070","#7a00b0","#6a00ff","#0000ff","#00ffff","#00ff00","#ffff00","#ff8c00","#ff0000","#c00000","#5a0000"],"interpolate":"rgb","nice":false,"zero":false},
    "legend":{"type":"gradient","orient":"none","legendX":1025,"legendY":1295,"title":null,"gradientLength":521,"gradientThickness":86,"gradientStrokeWidth":0,"values":[0,5],"labelExpr":"format(datum.value,'.3f')","labelFontSize":38,"labelFontWeight":"normal","labelOffset":19,"labelOverlap":false,"labelColor":"#111"}},
   "stroke":{"field":"fc","type":"quantitative","scale":{"domain":[0,0.4,0.7,0.95,1.85,2.45,3.4,4.05,4.6,6,7.001],"range":["#6a0070","#7a00b0","#6a00ff","#0000ff","#00ffff","#00ff00","#ffff00","#ff8c00","#ff0000","#c00000","#5a0000"],"interpolate":"rgb","nice":false,"zero":false},"legend":null}},
  "layer":[
   {"transform":[{"calculate":"clamp((datum.zv-0.6)/11.4,0,1)","as":"t"},
    {"calculate":"(1-datum.t)*((1-datum.v)*((1-datum.u)*198+datum.u*615)+datum.v*((1-datum.u)*552+datum.u*953))+datum.t*((1-datum.v)*((1-datum.u)*157+datum.u*625)+datum.v*((1-datum.u)*550+datum.u*1001))","as":"px"},
    {"calculate":"(1-datum.t)*((1-datum.v)*((1-datum.u)*1842+datum.u*2082)+datum.v*((1-datum.u)*1620+datum.u*1808))+datum.t*((1-datum.v)*((1-datum.u)*1354+datum.u*1551)+datum.v*((1-datum.u)*1183+datum.u*1327))","as":"py"}],
    "mark":{"type":"line","strokeWidth":1.2}},
   {"transform":[{"calculate":"(1-datum.v)*((1-datum.u)*157+datum.u*625)+datum.v*((1-datum.u)*550+datum.u*1001)","as":"px"},
    {"calculate":"(1-datum.v)*((1-datum.u)*1354+datum.u*1551)+datum.v*((1-datum.u)*1183+datum.u*1327)","as":"py"}],
    "mark":{"type":"line","strokeWidth":1.2}}
  ]},
 {"data":{"name":"axisC"},
  "transform":[{"calculate":"(datum.aef-200)/600","as":"u"},{"calculate":"(datum.mwf-1)/15","as":"v"},{"calculate":"(datum.z-0.6)/11.4","as":"t"},
  {"calculate":"(1-datum.t)*((1-datum.v)*((1-datum.u)*198+datum.u*615)+datum.v*((1-datum.u)*552+datum.u*953))+datum.t*((1-datum.v)*((1-datum.u)*157+datum.u*625)+datum.v*((1-datum.u)*550+datum.u*1001))","as":"px"},
  {"calculate":"(1-datum.t)*((1-datum.v)*((1-datum.u)*1842+datum.u*2082)+datum.v*((1-datum.u)*1620+datum.u*1808))+datum.t*((1-datum.v)*((1-datum.u)*1354+datum.u*1551)+datum.v*((1-datum.u)*1183+datum.u*1327))","as":"py"},
  {"calculate":"datum.px+(datum.kind=='mwf'?9:-9)","as":"px2"},{"calculate":"datum.py+(datum.kind=='z'?0:6)","as":"py2"}],
  "encoding":{"text":{"field":"label"}},
  "layer":[
   {"transform":[{"filter":"datum.kind=='z'||datum.kind=='base'"}],"mark":{"type":"line","color":"#222","strokeWidth":2.5}},
   {"transform":[{"filter":"datum.kind=='z'||datum.kind=='aef'||datum.kind=='mwf'"}],"mark":{"type":"rule","color":"#222","strokeWidth":2},"encoding":{"x2":{"field":"px2"},"y2":{"field":"py2"}}},
   {"transform":[{"filter":"datum.kind=='z'"}],"mark":{"type":"text","fontSize":28,"font":"Liberation Sans","color":"#444","angle":345,"dx":-34,"dy":7}},
   {"transform":[{"filter":"datum.kind=='aef'"}],"mark":{"type":"text","fontSize":28,"font":"Liberation Sans","color":"#444","angle":325,"dx":-42,"dy":0}},
   {"transform":[{"filter":"datum.kind=='mwf'"}],"mark":{"type":"text","fontSize":28,"font":"Liberation Sans","color":"#444","angle":30,"dx":32,"dy":-4}},
   {"transform":[{"filter":"datum.kind=='aeft'"}],"mark":{"type":"text","fontSize":46,"fontWeight":"bold","font":"Liberation Sans","color":"#111","angle":31,"dx":-43,"dy":98}},
   {"transform":[{"filter":"datum.kind=='mwft'"}],"mark":{"type":"text","fontSize":46,"fontWeight":"bold","font":"Liberation Sans","color":"#111","angle":322,"dx":51,"dy":76}},
   {"transform":[{"filter":"datum.kind=='zt'"}],"mark":{"type":"text","fontSize":42,"fontWeight":"bold","font":"Liberation Sans","color":"#111","angle":82,"dx":47,"dy":84}},
   {"transform":[{"filter":"datum.kind=='lt'"}],"mark":{"type":"text","fontSize":36,"fontWeight":"bold","font":"Liberation Sans","color":"#111","dx":41,"dy":-81}}
  ]}
 ]},

{"data":{"name":"lines"},"transform":[{"filter":"datum.chart=='B450'"}],"mark":{"type":"line","strokeWidth":5},
 "encoding":{"x":{"field":"mwf","type":"quantitative","scale":{"domain":[1,16],"range":[1416,2269],"nice":false,"zero":false},"axis":{"orient":"bottom","offset":-1174,"title":"MWF","titlePadding":20,"values":[1,2,3,4,5,6,7,8,9,10,11,12,13,14,15,16],"labelExpr":"datum.value%2==0?datum.label:''","tickSize":{"condition":{"test":"datum.value%2==0","value":14},"value":7},"domainColor":"#555","tickColor":"#333","labelColor":"#222","labelPadding":6}},
 "y":{"field":"tsc","type":"quantitative","scale":{"domain":[-0.36,24],"range":[968,282],"nice":false,"zero":false},"axis":{"orient":"left","offset":-1416,"title":null,"values":[0,1,2,3,4,5,6,7,8,9,10,11,12,13,14,15,16,17,18,19,20,21,22,23,24],"labelExpr":"datum.value%2==0?datum.label:''","tickSize":{"condition":{"test":"datum.value%2==0","value":14},"value":7},"domainColor":"#666","tickColor":"#666","labelColor":"#555","labelPadding":8}},
 "stroke":{"datum":"AcnB (TSC)","type":"nominal","scale":{"domain":["AcnB (TSC)"],"range":["#4d4d4d"]},"legend":{"orient":"none","legendX":1937,"legendY":206,"title":null,"labelColor":"#111"}}}},
{"data":{"name":"lines"},"transform":[{"filter":"datum.chart=='B450'"}],"mark":{"type":"line","strokeWidth":5.5},
 "encoding":{"x":{"field":"mwf","type":"quantitative","scale":{"domain":[1,16],"range":[1416,2269],"nice":false,"zero":false},"axis":null},
 "y":{"field":"fe","type":"quantitative","scale":{"domain":[0,2],"range":[968,282],"nice":false,"zero":false},"axis":{"orient":"right","offset":-1367,"title":null,"values":[0,0.1,0.2,0.3,0.4,0.5,0.6,0.7,0.8,0.9,1,1.1,1.2,1.3,1.4,1.5,1.6,1.7,1.8,1.9,2],"labelExpr":"round(datum.value*10)%2==0?format(datum.value,'.1f'):''","tickSize":{"condition":{"test":"round(datum.value*10)%2==0","value":14},"value":7},"domainColor":"#0000ff","domainWidth":4,"tickColor":"#0000ff","labelColor":"#0000ff","labelPadding":8}},
 "stroke":{"datum":"[Fe] (µM)","type":"nominal","scale":{"domain":["[Fe] (µM)"],"range":["#0000ff"]},"legend":{"orient":"none","legendX":1937,"legendY":259,"title":null,"labelColor":"#0000ff"}}}},

{"data":{"name":"lines"},"transform":[{"filter":"datum.chart=='B500'"}],"mark":{"type":"line","strokeWidth":5},
 "encoding":{"x":{"field":"mwf","type":"quantitative","scale":{"domain":[1,16],"range":[2628,3532],"nice":false,"zero":false},"axis":{"orient":"bottom","offset":-1171,"title":"MWF","titlePadding":34,"values":[1,2,3,4,5,6,7,8,9,10,11,12,13,14,15,16],"labelExpr":"datum.value%2==0?datum.label:''","tickSize":{"condition":{"test":"datum.value%2==0","value":14},"value":7},"domainColor":"#222","tickColor":"#333","labelColor":"#222","labelPadding":6}},
 "y":{"field":"tsc","type":"quantitative","scale":{"domain":[-0.53,20],"range":[971,237],"nice":false,"zero":false},"axis":{"orient":"left","offset":-2628,"title":null,"values":[0,1,2,3,4,5,6,7,8,9,10,11,12,13,14,15,16,17,18,19,20],"labelExpr":"datum.value%2==0?datum.label:''","tickSize":{"condition":{"test":"datum.value%2==0","value":14},"value":7},"domainColor":"#777","tickColor":"#777","labelColor":"#555","labelPadding":8}},
 "stroke":{"datum":"AcnB (TSC)","type":"nominal","scale":{"domain":["AcnB (TSC)"],"range":["#4d4d4d"]},"legend":{"orient":"none","legendX":3174,"legendY":186,"title":null,"labelColor":"#111"}}}},
{"data":{"name":"lines"},"transform":[{"filter":"datum.chart=='B500'"}],"mark":{"type":"line","strokeWidth":5.5},
 "encoding":{"x":{"field":"mwf","type":"quantitative","scale":{"domain":[1,16],"range":[2628,3532],"nice":false,"zero":false},"axis":null},
 "y":{"field":"fe","type":"quantitative","scale":{"domain":[0,0.3],"range":[969,237],"nice":false,"zero":false},"axis":{"orient":"right","offset":-104,"title":null,"values":[0,0.025,0.05,0.075,0.1,0.125,0.15,0.175,0.2,0.225,0.25,0.275,0.3],"labelExpr":"round(datum.value*1000)%50==0?format(datum.value,'.2f'):''","tickSize":{"condition":{"test":"round(datum.value*1000)%50==0","value":14},"value":7},"domainColor":"#0000ff","domainWidth":4,"tickColor":"#0000ff","labelColor":"#0000ff","labelPadding":8}},
 "stroke":{"datum":"[Fe] (µM)","type":"nominal","scale":{"domain":["[Fe] (µM)"],"range":["#0000ff"]},"legend":{"orient":"none","legendX":3174,"legendY":242,"title":null,"labelColor":"#0000ff"}}}},

{"data":{"name":"lines"},"transform":[{"filter":"datum.chart=='D450'"}],"mark":{"type":"line","strokeWidth":5},
 "encoding":{"x":{"field":"mwf","type":"quantitative","scale":{"domain":[1,16],"range":[1440,2293],"nice":false,"zero":false},"axis":{"orient":"bottom","offset":-142,"title":"MWF","titlePadding":28,"values":[1,2,3,4,5,6,7,8,9,10,11,12,13,14,15,16],"labelExpr":"datum.value%2==0?datum.label:''","tickSize":{"condition":{"test":"datum.value%2==0","value":14},"value":7},"domainColor":"#222","tickColor":"#222","labelColor":"#222","labelPadding":6}},
 "y":{"field":"tsc","type":"quantitative","scale":{"domain":[-0.5,10],"range":[2000,1311],"nice":false,"zero":false},"axis":{"orient":"left","offset":-1440,"title":null,"values":[0,2.5,5,7.5,10],"labelExpr":"datum.value%5==0?datum.label:''","tickSize":{"condition":{"test":"datum.value%5==0","value":14},"value":7},"domainColor":"#555","tickColor":"#555","labelColor":"#555","labelPadding":8}},
 "stroke":{"datum":"FrdB (TSC)","type":"nominal","scale":{"domain":["FrdB (TSC)"],"range":["#4d4d4d"]},"legend":{"orient":"none","legendX":1954,"legendY":1257,"title":null,"labelColor":"#111"}}}},
{"data":{"name":"lines"},"transform":[{"filter":"datum.chart=='D450'"}],"mark":{"type":"line","strokeWidth":5.5},
 "encoding":{"x":{"field":"mwf","type":"quantitative","scale":{"domain":[1,16],"range":[1440,2293],"nice":false,"zero":false},"axis":null},
 "y":{"field":"fe","type":"quantitative","scale":{"domain":[-0.048,2],"range":[2000,1311],"nice":false,"zero":false},"axis":{"orient":"right","offset":-1343,"title":null,"values":[0,0.1,0.2,0.3,0.4,0.5,0.6,0.7,0.8,0.9,1,1.1,1.2,1.3,1.4,1.5,1.6,1.7,1.8,1.9,2],"labelExpr":"round(datum.value*10)%2==0?format(datum.value,'.1f'):''","tickSize":{"condition":{"test":"round(datum.value*10)%2==0","value":14},"value":7},"domainColor":"#0000ff","domainWidth":4,"tickColor":"#0000ff","labelColor":"#0000ff","labelPadding":8}},
 "stroke":{"datum":"[Fe] µM","type":"nominal","scale":{"domain":["[Fe] µM"],"range":["#0000ff"]},"legend":{"orient":"none","legendX":1954,"legendY":1309,"title":null,"labelColor":"#0000ff"}}}},

{"data":{"name":"lines"},"transform":[{"filter":"datum.chart=='D500'"}],"mark":{"type":"line","strokeWidth":5},
 "encoding":{"x":{"field":"mwf","type":"quantitative","scale":{"domain":[1,16],"range":[2584,3495],"nice":false,"zero":false},"axis":{"orient":"bottom","offset":-121,"title":"MWF","titlePadding":26,"values":[1,2,3,4,5,6,7,8,9,10,11,12,13,14,15,16],"labelExpr":"datum.value%2==0?datum.label:''","tickSize":{"condition":{"test":"datum.value%2==0","value":14},"value":7},"domainColor":"#888","tickColor":"#333","labelColor":"#222","labelPadding":6}},
 "y":{"field":"tsc","type":"quantitative","scale":{"domain":[-0.21,6.51],"range":[2021,1286],"nice":false,"zero":false},"axis":{"orient":"left","offset":-2584,"title":null,"values":[0,0.5,1,1.5,2,2.5,3,3.5,4,4.5,5,5.5,6,6.5],"labelExpr":"datum.value%1==0?format(datum.value,'d'):''","tickSize":{"condition":{"test":"datum.value%1==0","value":14},"value":7},"domainColor":"#888","tickColor":"#888","labelColor":"#555","labelPadding":8}},
 "stroke":{"datum":"FrdB (TSC)","type":"nominal","scale":{"domain":["FrdB (TSC)"],"range":["#4d4d4d"]},"legend":{"orient":"none","legendX":3165,"legendY":1216,"title":null,"labelColor":"#111"}}}},
{"data":{"name":"lines"},"transform":[{"filter":"datum.chart=='D500'"}],"mark":{"type":"line","strokeWidth":5.5},
 "encoding":{"x":{"field":"mwf","type":"quantitative","scale":{"domain":[1,16],"range":[2584,3495],"nice":false,"zero":false},"axis":null},
 "y":{"field":"fe","type":"quantitative","scale":{"domain":[-0.0097,0.3],"range":[2021,1287],"nice":false,"zero":false},"axis":{"orient":"right","offset":-141,"title":null,"values":[0,0.025,0.05,0.075,0.1,0.125,0.15,0.175,0.2,0.225,0.25,0.275,0.3],"labelExpr":"round(datum.value*1000)%50==0?format(datum.value,'.2f'):''","tickSize":{"condition":{"test":"round(datum.value*1000)%50==0","value":14},"value":7},"domainColor":"#0000ff","domainWidth":4,"tickColor":"#0000ff","labelColor":"#0000ff","labelPadding":8}},
 "stroke":{"datum":"[Fe] µM","type":"nominal","scale":{"domain":["[Fe] µM"],"range":["#0000ff"]},"legend":{"orient":"none","legendX":3165,"legendY":1273,"title":null,"labelColor":"#0000ff"}}}}
],
"resolve":{"scale":{"x":"independent","y":"independent","fill":"independent","stroke":"independent"},"axis":{"x":"independent","y":"independent"},"legend":{"fill":"independent","stroke":"independent"}}}
